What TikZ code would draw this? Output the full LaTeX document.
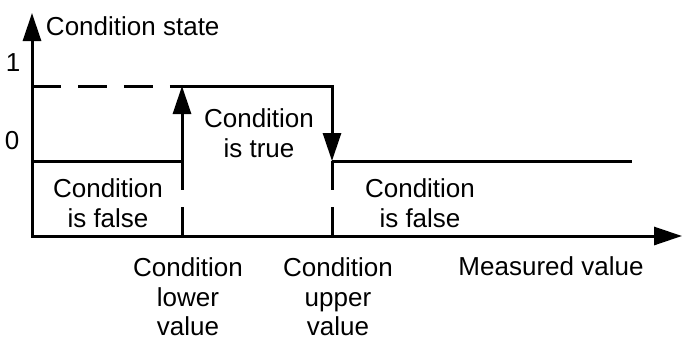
\documentclass[tikz,border=0pt]{standalone}
\usepackage{fontspec}
\setmainfont{Liberation Sans}
\usetikzlibrary{arrows.meta}

\begin{document}
\begin{tikzpicture}[
  font=\fontsize{14.8}{16.9}\selectfont,
  line width=0.06cm,
  axis/.style={{Triangle[length=0.56cm,width=0.36cm]}-{Triangle[length=0.56cm,width=0.36cm]}},
  jump/.style={-{Triangle[length=0.56cm,width=0.36cm]}},
  guide/.style={dash pattern=on 0.58cm off 0.34cm},
  lbl/.style={anchor=north,align=center,inner sep=0pt}
]
\useasboundingbox (-0.64,-2.08) rectangle (13.0,4.72);
% axes
\coordinate (o) at (0,0);
\coordinate (xend) at (13.0,0);
\coordinate (yend) at (0,4.46);
\draw[axis,line join=miter] (yend) -- (o) -- (xend);
% step of the condition state
\coordinate (lowstart) at (0,1.5);
\coordinate (lowon) at (3,1.5);
\coordinate (highon) at (3,3);
\coordinate (highoff) at (6,3);
\coordinate (lowoff) at (6,1.5);
\coordinate (lowend) at (12,1.5);
\coordinate (highstart) at (0,3);
\coordinate (lowtick) at (3,0);
\coordinate (uptick) at (6,0);
\draw (lowstart) -- (lowon);
\draw[jump] (lowon) -- (highon);
\draw[jump,line join=miter] (highon) -- (highoff) -- (lowoff);
\draw (lowoff) -- (lowend);
\draw[guide] (highstart) -- (highon);
\draw[guide] (lowon) -- (lowtick);
\draw[guide] (lowoff) -- (uptick);
% labels
\node[anchor=base west,inner sep=0pt] (ylabel) at (0.25,4.02) {Condition state};
\node (one) at (-0.38,3.47) {1};
\node (zero) at (-0.4,1.9) {0};
\node[lbl] (truelbl) at (4.54,2.58) {Condition\\is true};
\node[lbl] (falseleft) at (1.52,1.18) {Condition\\is false};
\node[lbl] (falseright) at (7.76,1.18) {Condition\\is false};
\node[lbl] (lowerlbl) at (3.12,-0.40) {Condition\\lower\\value};
\node[lbl] (upperlbl) at (6.12,-0.40) {Condition\\upper\\value};
\node[lbl] (xlabel) at (10.38,-0.38) {Measured value};
\end{tikzpicture}
\end{document}
